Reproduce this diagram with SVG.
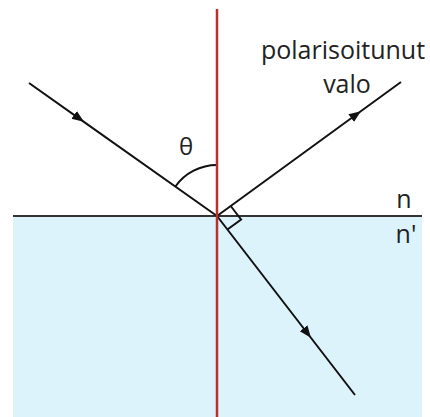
<svg xmlns="http://www.w3.org/2000/svg" width="430" height="417" viewBox="0 0 430 417">
<style>
.ray{fill:none;stroke:#111;stroke-width:2}
.lbl{font-family:"Open Sans","Liberation Sans",sans-serif;fill:#222}
</style>
<defs>
<marker id="arr" viewBox="0 0 10 10" refX="6" refY="5" markerWidth="12" markerHeight="12" markerUnits="userSpaceOnUse" orient="auto">
<path d="M0,1 L10,5 L0,9 Z" fill="#111"/>
</marker>
</defs>
<rect width="430" height="417" fill="#fff"/>
<g id="medium">
<rect x="13" y="216" width="409" height="201" fill="#ddf3fc"/>
<line x1="13" y1="216" x2="422" y2="216" stroke="#333" stroke-width="2"/>
</g>
<g id="connectors">
<path class="ray" d="M29,83 L80,119.1 L217,216" marker-mid="url(#arr)"/>
<path class="ray" d="M217,216 L357,114 L401,82" marker-mid="url(#arr)"/>
<path class="ray" d="M217,216 L308,334 L355,395" marker-mid="url(#arr)"/>
<path class="ray" d="M230.7,206 L241.1,219.5 L227.4,229.5" stroke-width="1.8"/>
<path class="ray" d="M175.4,186.5 A51,51 0 0 1 217,165" stroke-width="1.8"/>
</g>
<g id="normal">
<line x1="217" y1="9" x2="217" y2="417" stroke="#b8302e" stroke-width="2.5"/>
</g>
<g id="labels">
<text class="lbl" x="186" y="155" font-size="24" text-anchor="middle">θ</text>
<text class="lbl" x="343" y="59" font-size="25" text-anchor="middle">polarisoitunut</text>
<text class="lbl" x="347" y="93" font-size="25" text-anchor="middle">valo</text>
<text class="lbl" x="404" y="208" font-size="25" text-anchor="middle">n</text>
<text class="lbl" x="406" y="243" font-size="25" text-anchor="middle">n'</text>
</g>
</svg>
